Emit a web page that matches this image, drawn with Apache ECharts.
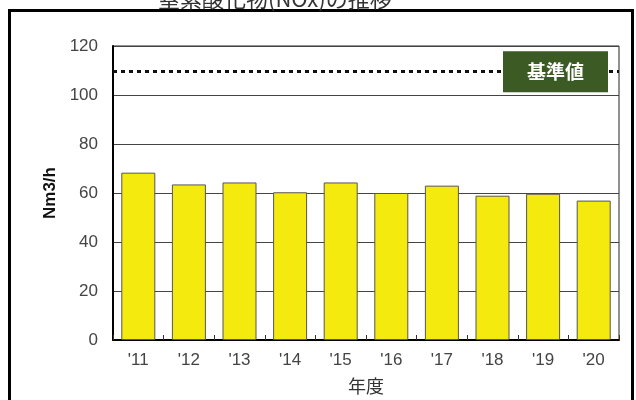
<!DOCTYPE html>
<html>
<head>
<meta charset="utf-8">
<script src="https://cdn.jsdelivr.net/npm/echarts@6/dist/echarts.min.js"></script>
<style>
html,body{margin:0;padding:0;background:#fff;}
#chart{width:636px;height:400px;}
</style>
</head>
<body>
<div id="chart"></div>
<script>
var titleText = '窒素酸化物(NOx)の推移';
var years = ["'11", "'12", "'13", "'14", "'15", "'16", "'17", "'18", "'19", "'20"];
var values = [68.3, 63.5, 64.3, 60.3, 64.3, 60.0, 63.0, 58.9, 59.7, 56.9];
var standardValue = 109.5;
var standardLabel = '基準値';
var yTicks = [0, 20, 40, 60, 80, 100, 120];
var yName = 'Nm3/h';
var xName = '年度';

var chart = echarts.init(document.getElementById('chart'), null, {renderer: 'canvas'});
chart.setOption({
  animation: false,
  backgroundColor: '#fff',
  title: {
    text: titleText,
    left: 153,
    top: -17,
    textStyle: {fontSize: 22, fontWeight: 'normal', color: '#333', fontFamily: 'Noto Sans CJK JP'}
  },
  graphic: [{
    type: 'rect',
    shape: {x: 9.5, y: 10.5, width: 623, height: 400},
    style: {fill: 'none', stroke: '#000', lineWidth: 3},
    silent: true
  }],
  grid: {
    left: 113, top: 46, right: 17, bottom: 56,
    show: true, borderColor: '#222', borderWidth: 1, backgroundColor: 'transparent'
  },
  xAxis: {
    type: 'category',
    data: years,
    name: xName,
    nameLocation: 'middle',
    nameGap: 37,
    nameTextStyle: {fontSize: 18, color: '#333', fontFamily: 'Noto Sans CJK JP'},
    axisLine: {lineStyle: {color: '#000', width: 2}},
    axisTick: {show: true, inside: true, length: 5, lineStyle: {color: '#333'}},
    axisLabel: {fontSize: 17, color: '#444', margin: 12, fontFamily: 'Liberation Sans'}
  },
  yAxis: {
    type: 'value',
    min: 0, max: 120, interval: 20,
    name: yName,
    nameLocation: 'middle',
    nameRotate: 90,
    nameGap: 54,
    nameTextStyle: {fontSize: 17, fontWeight: 'bold', color: '#111', fontFamily: 'Liberation Sans'},
    axisLine: {show: true, lineStyle: {color: '#000', width: 2}},
    axisTick: {show: false},
    axisLabel: {fontSize: 17, color: '#444', margin: 15, fontFamily: 'Liberation Sans',
      formatter: function (v) { return yTicks.indexOf(v) >= 0 ? String(v) : ''; }},
    splitLine: {lineStyle: {color: '#444', width: 1}}
  },
  series: [{
    type: 'bar',
    data: values,
    barWidth: 34,
    itemStyle: {color: '#f5ea0e', borderColor: '#555', borderWidth: 1},
    markLine: {
      silent: true,
      symbol: ['none', 'none'],
      lineStyle: {type: [4, 4], width: 3, color: '#111'},
      label: {
        show: true,
        position: 'insideEnd',
        distance: 11,
        formatter: standardLabel,
        color: '#fff',
        fontSize: 19,
        fontWeight: 'bold',
        fontFamily: 'Noto Sans CJK JP',
        lineHeight: 19,
        backgroundColor: '#3b5a24',
        padding: [11, 24]
      },
      data: [{yAxis: standardValue}]
    }
  }]
});
</script>
</body>
</html>
